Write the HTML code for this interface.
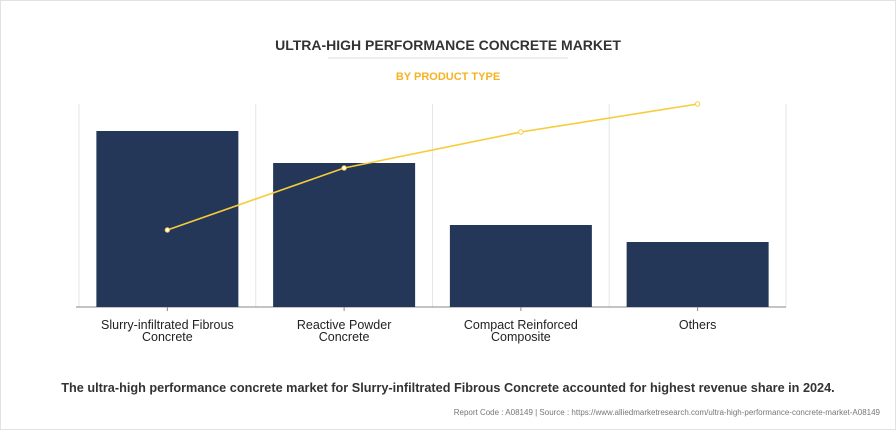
<!DOCTYPE html>
<html><head><meta charset="utf-8"><style>
html,body{margin:0;padding:0;background:#fff;}
body{width:896px;height:430px;overflow:hidden;font-family:"Liberation Sans",Arial,sans-serif;}
.frame{position:absolute;left:0;top:0;width:894px;height:428px;border:1px solid #e2e2e2;}
</style></head><body>
<div class="frame"></div>
<svg id="chart" width="896" height="430" style="position:absolute;left:0;top:0">
<text x="448" y="50" text-anchor="middle" font-size="14" font-weight="bold" fill="#333">ULTRA-HIGH PERFORMANCE CONCRETE MARKET</text>
<line x1="328" y1="58" x2="568" y2="58" stroke="#ddd"/>
<text x="448" y="80" text-anchor="middle" font-size="11" font-weight="bold" fill="#f5b323">BY PRODUCT TYPE</text>
<g id="grid"></g><g id="bars"></g><g id="line"></g><g id="labels"></g>
<text x="448" y="392" text-anchor="middle" font-size="12.7" font-weight="bold" fill="#333">The ultra-high performance concrete market for Slurry-infiltrated Fibrous Concrete accounted for highest revenue share in 2024.</text>
<text x="880" y="415" text-anchor="end" font-size="8" fill="#777">Report Code : A08149  |  Source : https://www.alliedmarketresearch.com/ultra-high-performance-concrete-market-A08149</text>
</svg>
<script>
const categories=[["Slurry-infiltrated Fibrous","Concrete"],["Reactive Powder","Concrete"],["Compact Reinforced","Composite"],["Others"]];
const barValues=[176,144,82,65];
const lineValues=[77,139,175,203];
const ns="http://www.w3.org/2000/svg";
const x0=79,x1=786,base=307,yMax=203,yTop=104;
const band=(x1-x0)/categories.length;
const xC=i=>x0+band*(i+0.5);
const yS=v=>base-v/yMax*(base-yTop);
function mk(t,a,p){const e=document.createElementNS(ns,t);for(const k in a)e.setAttribute(k,a[k]);p.appendChild(e);return e;}
const G=document.getElementById('grid'),B=document.getElementById('bars'),L=document.getElementById('line'),T=document.getElementById('labels');
for(let i=0;i<=categories.length;i++){const g=mk('line',{x1:x0+band*i,x2:x0+band*i,y1:yTop,y2:base,stroke:'#e6e6e6'},G);

}
const ax=mk('line',{x1:x0-3,x2:x1,y1:base,y2:base,stroke:'#888'},G);


barValues.forEach((v,i)=>{const w=142;const r=mk('rect',{x:xC(i)-w/2,y:yS(v),width:w,height:base-yS(v),fill:'#253758'},B);


const tk=mk('line',{x1:xC(i),x2:xC(i),y1:base,y2:base+4,stroke:'#888'},G);


const t=mk('text',{x:xC(i),y:329,'text-anchor':'middle','font-size':12.5,fill:'#222'},T);


categories[i].forEach((s,j)=>{const ts=mk('tspan',{x:xC(i),dy:j?12:0},t);ts.textContent=s;});});
const pl=mk('polyline',{points:lineValues.map((v,i)=>xC(i)+','+yS(v)).join(' '),fill:'none',stroke:'#f7cc3a','stroke-width':1.6},L);


lineValues.forEach((v,i)=>{const c=mk('circle',{cx:xC(i),cy:yS(v),r:2.2,fill:'#fff',stroke:'#f7cc3a','stroke-width':1},L);

});
</script>
</body></html>
